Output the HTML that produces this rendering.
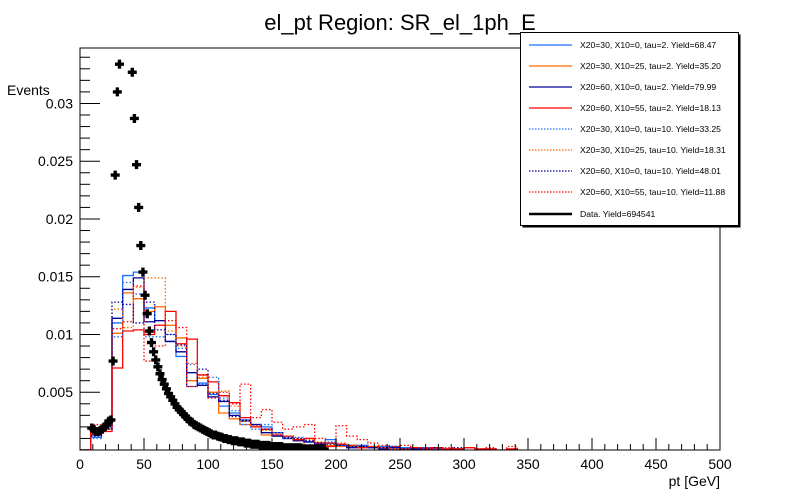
<!DOCTYPE html>
<html><head><meta charset="utf-8"><style>
body{margin:0;background:#fff;}
svg{display:block;font-family:"Liberation Sans",sans-serif;}
</style></head><body>
<svg id="chart" width="800" height="500"></svg>
<script>
const binWidth = 500/60;
const dataBinWidth = 500/300;
const dataStart = 8.3333;
const seriesNames = ["X20=30, X10=0, tau=2. Yield=68.47","X20=30, X10=25, tau=2. Yield=35.20","X20=60, X10=0, tau=2. Yield=79.99","X20=60, X10=55, tau=2. Yield=18.13","X20=30, X10=0, tau=10. Yield=33.25","X20=30, X10=25, tau=10. Yield=18.31","X20=60, X10=0, tau=10. Yield=48.01","X20=60, X10=55, tau=10. Yield=11.88"];
const s1 = [0,.0011,.0020,.0110,.0151,.0154,.0123,.0112,.0094,.0081,.0067,.0058,.0048,.0038,.0032,.0026,.0020,.0020,.0015,.0012,.0009,.0007,.0006,.0009,.0005,.0004,.0004,.0002,.0003,.0003,.0002,.0001,.0002,.0001,.0001,.0001,.0002,0,.0001];
const s2 = [0,.0014,.0018,.0101,.0136,.0131,.0120,.0124,.0108,.0097,.0060,.0062,.0050,.0032,.0027,.0022,.0020,.0013,.0012,.0010,.0008,.0004,.0006,.0004,.0003,.0003,.0002,.0002,.0001,.0001,.0001,0,.0001];
const s3 = [0,.0013,.0020,.0114,.0139,.0149,.0111,.0112,.0094,.0085,.0067,.0056,.0046,.0042,.0030,.0025,.0022,.0015,.0012,.0010,.0008,.0007,.0005,.0006,.0004,.0002,.0003,.0002,.0001,.0002,.0001,.0001,.0001,.0002];
const s4 = [0,.0015,.0016,.0071,.0103,.0104,.0100,.0108,.0120,.0092,.0096,.0065,.0059,.0047,.0041,.0028,.0020,.0018,.0013,.0012,.0009,.0010,.0006,.0003,.0005,.0004,.0002,.0003,.0002,.0001,.0001,.0002,.0001,.0002,.0001,.0001,.0002,.0001,.0001,0,.0001];
const s5 = [0,.0010,.0019,.0098,.0145,.0135,.0098,.0098,.0100,.0088,.0074,.0057,.0063,.0045,.0034,.0022,.0018,.0022,.0013,.0010,.0011,.0008,.0005,.0007,.0004,.0003,.0004,.0002,.0002,.0001,.0002,.0001,.0001,.0001];
const s6 = [0,.0019,.0021,.0122,.0106,.0141,.0149,.0149,.0103,.0090,.0075,.0063,.0050,.0051,.0038,.0025,.0021,.0017,.0014,.0012,.0010,.0009,.0007,.0006,.0006,.0004,.0003,.0003,.0002,.0001];
const s7 = [0,.0012,.0018,.0128,.0126,.0110,.0128,.0104,.0100,.0091,.0055,.0070,.0049,.0043,.0029,.0026,.0022,.0018,.0015,.0011,.0010,.0008,.0006,.0005,.0004,.0003,.0003,.0002,.0002,.0003,.0001,.0001,.0001,.0002,0,.0002];
const s8 = [0,.0022,.0022,.0105,.0111,.0142,.0077,.0090,.0112,.0106,.0055,.0065,.0045,.0050,.0040,.0057,.0028,.0035,.0024,.0018,.0020,.0022,.0010,.0006,.0021,.0012,.0009,.0006,.0004,.0003,.0004,.0002,.0002,.0001,.0002,.0001,.0002,.0001,.0002,0,.0003];
const dataVals = [.0019,.0018,.0016,.0016,.0017,.0018,.0020,.0022,.0025,.0026,.0077,.0238,.0310,.0334,.037,.039,.040,.039,.037,.0327,.0287,.0247,.0210,.0177,.0154,.0134,.0118,.0103,.0093,.0085,.0078,.0072,.0066,.0061,.0057,.0053,.0049,.0046,.0043,.0040,.0037,.0035,.0033,.0031,.0029,.0027,.0025,.0024,.0022,.0021,.0020,.0019,.0018,.0017,.0016,.0015,.0014,.0013,.0013,.0012,.00115,.0011,.0010,.0010,.0009,.0009,.0008,.0008,.0008,.0007,.0007,.0007,.0006,.0006,.0006,.0005,.0005,.0005,.0005,.0004,.0004,.0004,.0004,.0004,.0003,.0003,.0003,.0003,.0003,.0003,.0002,.0002,.0002,.0002,.0002,.0002,.0002,.0002,.0002,.0001,.0001,.0001,.0001,.0001,.0001,.0001,.0001,.0001,.0001,.00008];
const xTicks = [0,50,100,150,200,250,300,350,400,450,500];
const yTicks = [0.005,0.01,0.015,0.02,0.025,0.03];
const yTickLabels = ["0.005","0.01","0.015","0.02","0.025","0.03"];

const X0=80,X1=720,Y0=450,Y1=48, yMax=0.0348;
const sx=v=>X0+(v/500)*(X1-X0);
const sy=v=>Y0-(v/yMax)*(Y0-Y1);
const svg=document.getElementById('chart');
const NS='http://www.w3.org/2000/svg';
function mk(tag,attrs,parent){const e=document.createElementNS(NS,tag);for(const k in attrs)e.setAttribute(k,attrs[k]);(parent||svg).appendChild(e);return e;}

const defs=mk('defs',{});
const cp=mk('clipPath',{id:'clip'},defs);
mk('rect',{x:X0,y:Y1,width:X1-X0,height:Y0-Y1},cp);

const t=mk('text',{x:400,y:30,'text-anchor':'middle','font-size':22});
t.textContent='el_pt Region: SR_el_1ph_E';



const colors=['#1f6fff','#ff6a00','#000099','#ff0000','#1f6fff','#ff6a00','#000099','#ff0000'];
const allSeries=[s1,s2,s3,s4,s5,s6,s7,s8];
const plot=mk('g',{'clip-path':'url(#clip)'});


allSeries.forEach((arr,si)=>{
  let d='M'+sx(0)+','+sy(0);
  arr.forEach((v,i)=>{d+=' L'+sx(i*binWidth)+','+sy(v)+' L'+sx((i+1)*binWidth)+','+sy(v);});
  d+=' L'+sx(arr.length*binWidth)+','+sy(0);
  const p=mk('path',{d:d,fill:'none',stroke:colors[si],'stroke-width':1.3,'stroke-dasharray':si>=4?'1.5,2':'none'},plot);
  
  
});
dataVals.forEach((v,i)=>{
  const cx=sx(dataStart+(i+0.5)*dataBinWidth), cy=sy(v);
  const g=mk('path',{d:`M${cx-1.7},${cy-4.5}h3.4v2.8h2.8v3.4h-2.8v2.8h-3.4v-2.8h-2.8v-3.4h2.8z`,fill:'#000'},plot);
  
  
});

const fr=mk('rect',{x:X0,y:Y1,width:X1-X0,height:Y0-Y1,fill:'none',stroke:'#000','stroke-width':1});



for(let v=0;v<=500;v+=10){
  const major=v%50===0;
  mk('line',{x1:sx(v),x2:sx(v),y1:Y0,y2:Y0-(major?12:6),stroke:'#000'});
}
xTicks.forEach(v=>{
  const l=mk('text',{x:sx(v),y:Y0+19,'text-anchor':'middle','font-size':14});
  l.textContent=v;
  
  
});
for(let k=1;k<=34;k++){
  const v=k*0.001;
  const major=k%5===0;
  mk('line',{x1:X0,x2:X0+(major?20:10),y1:sy(v),y2:sy(v),stroke:'#000'});
}
yTicks.forEach((v,i)=>{
  const l=mk('text',{x:73,y:sy(v)+5,'text-anchor':'end','font-size':14});
  l.textContent=yTickLabels[i];
  
  
});
const xl=mk('text',{x:720,y:486,'text-anchor':'end','font-size':14});
xl.textContent='pt [GeV]';


const yl=mk('text',{x:7,y:95,'font-size':14});
yl.textContent='Events';



const lg=mk('g',{});


mk('rect',{x:522.5,y:34.5,width:218,height:193,fill:'#000'},lg);
mk('rect',{x:520.5,y:32.5,width:218,height:193,fill:'#fff',stroke:'#000','stroke-width':1},lg);
seriesNames.forEach((n,i)=>{
  const y=45+i*21;
  const e=mk('g',{},lg);
  
  
  mk('line',{x1:529,x2:572,y1:y,y2:y,stroke:colors[i],'stroke-width':1.2,'stroke-dasharray':i>=4?'1.5,1.5':'none'},e);
  const tx=mk('text',{x:580,y:y+3,'font-size':8.6},e);
  tx.textContent=n;
});
const de=mk('g',{},lg);


mk('line',{x1:529,x2:572,y1:214,y2:214,stroke:'#000','stroke-width':2.5},de);
const dt=mk('text',{x:580,y:217,'font-size':8.6},de);
dt.textContent='Data. Yield=694541';
</script>
</body></html>
